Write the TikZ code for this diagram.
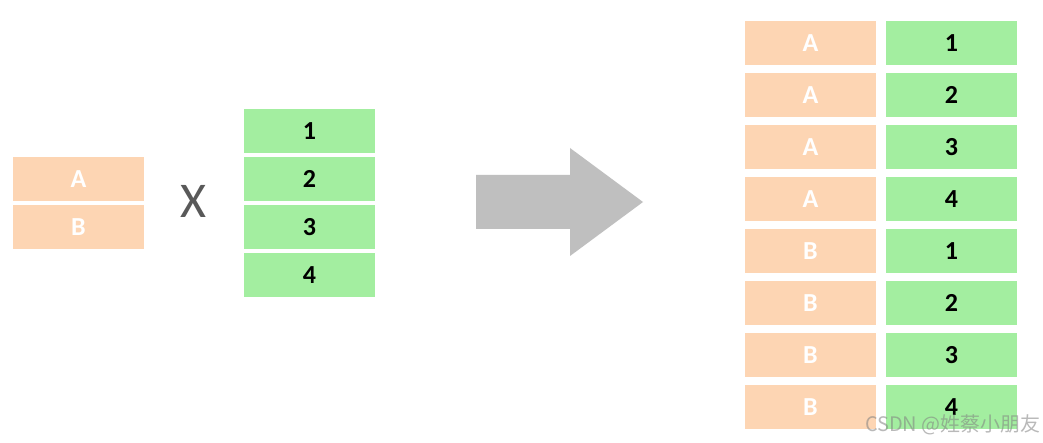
\documentclass[tikz,border=0pt]{standalone}
\usepackage{fontspec}
\setmainfont{Carlito}
\newfontfamily\cjkfont{Noto Sans CJK SC}
\definecolor{peach}{HTML}{FDD5B3}
\definecolor{mint}{HTML}{A3EEA0}
\definecolor{arrowgray}{HTML}{BFBFBF}
\definecolor{xgray}{HTML}{595959}
\begin{document}
\begin{tikzpicture}[x=1pt,y=-1pt,
  cell/.style={draw=none,minimum width=131pt,minimum height=44pt,inner sep=0pt,
    font=\fontsize{26}{26}\selectfont\bfseries},
  lcell/.style={cell,fill=peach,text=white},
  ncell/.style={cell,fill=mint,text=black}]
\useasboundingbox[fill=white] (0,0) rectangle (1043,443);
% left inputs
\node[lcell] (a) at (78.5,179) {A};
\node[lcell] (b) at (78.5,227) {B};
\node[text=xgray,inner sep=0pt,font=\fontsize{50}{50}\selectfont] (x) at (193,201) {X};
\foreach \n [count=\i from 0] in {1,2,3,4}{
  \node[ncell] (n\n) at (309.5,131+48*\i) {\n};
}
% big arrow
\fill[arrowgray] (476,175) -- (570,175) -- (570,148) -- (643,202) -- (570,256) -- (570,229) -- (476,229) -- cycle;
% result table
\foreach \l/\n [count=\i from 0] in {A/1,A/2,A/3,A/4,B/1,B/2,B/3,B/4}{
  \node[lcell] (rl\i) at (810.5,43+52*\i) {\l};
  \node[ncell] (rn\i) at (951.5,43+52*\i) {\n};
}
\node[anchor=east,inner sep=0pt,text=gray,opacity=0.55,font=\fontsize{20}{20}\selectfont\cjkfont] (wm) at (1041,425) {CSDN @姓蔡小朋友};
\end{tikzpicture}
\end{document}
